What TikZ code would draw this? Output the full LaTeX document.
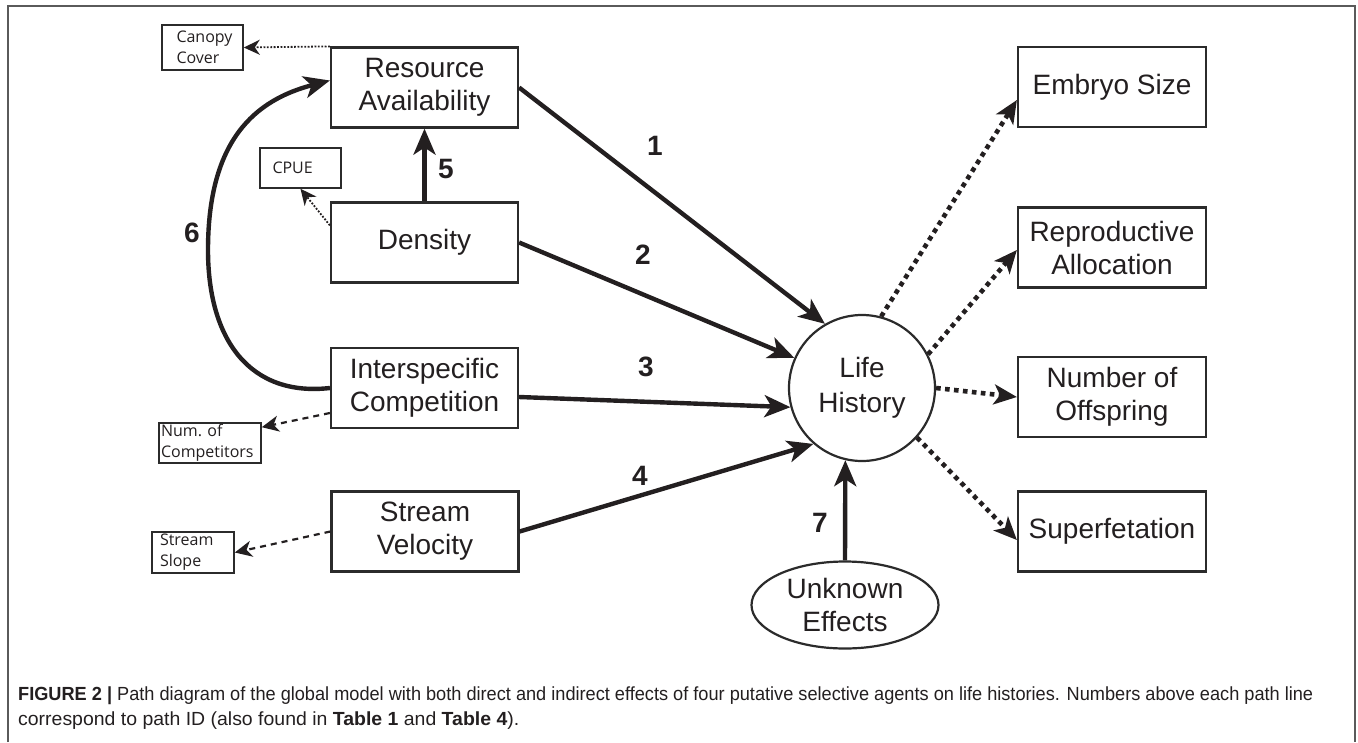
\documentclass[tikz,border=0pt]{standalone}
\usepackage{fontspec}
\setmainfont{Liberation Sans}
\newfontfamily\smallfont{Open Sans}
\usetikzlibrary{arrows.meta,shapes.geometric,calc}
\definecolor{ink}{HTML}{231F20}
\definecolor{linec}{HTML}{2B2B2B}
\definecolor{framec}{HTML}{5A5A5A}
\begin{document}
\begin{tikzpicture}[x=1pt,y=-1pt,
  box/.style={draw=linec, line width=2.2pt, minimum width=187pt, minimum height=80pt, inner sep=0pt, align=center, font=\fontsize{28}{33}\selectfont, text=ink},
  sbox/.style={draw=linec, line width=1.6pt, inner sep=0pt, align=left, font=\smallfont\fontsize{16}{21}\selectfont, text=ink},
  num/.style={font=\bfseries\fontsize{28}{28}\selectfont, text=ink},
  patharrow/.style={draw=ink, line width=4.4pt, -{Stealth[length=26pt,width=22pt,inset=7pt]}},
  outarrow/.style={draw=ink, line width=4.6pt, dash pattern=on 4.6pt off 4.4pt, -{Stealth[length=23pt,width=20pt,inset=6pt]}},
  dotarrow/.style={draw=ink, line width=1.8pt, dash pattern=on 1.8pt off 1.6pt, -{Stealth[length=16pt,width=15pt,inset=5pt]}},
  dasharrow/.style={draw=ink, line width=2.2pt, dash pattern=on 6pt off 5pt, -{Stealth[length=17pt,width=16pt,inset=5pt]}}
]
\useasboundingbox (0,0) rectangle (1358,742);
\draw[framec, line width=1.3pt] (8,742) -- (8,6) -- (1355,6) -- (1355,742);

% main boxes
\node[box] (R) at (424.5,87.5) {Resource\\Availability};
\node[box] (D) at (424.5,242.5) {Density};
\node[box] (I) at (424.5,388) {Interspecific\\Competition};
\node[box] (S) at (425,531.5) {Stream\\Velocity};
\node[box, minimum width=188pt] (E) at (1112,87) {Embryo Size};
\node[box, minimum width=188pt] (A) at (1112,247.5) {Reproductive\\Allocation};
\node[box, minimum width=188pt] (O) at (1112,397) {Number of\\Offspring};
\node[box, minimum width=188pt] (F) at (1112,531.5) {Superfetation};
\node[box, circle, minimum size=146pt, minimum width=146pt, font=\fontsize{28}{35}\selectfont] (L) at (862,388) {Life\\History};
\node[box, ellipse, minimum width=187pt, minimum height=87pt] (U) at (845,605) {Unknown\\Effects};

% small boxes
\node[sbox, minimum width=81pt, minimum height=45pt, text width=52pt] (C) at (202.5,47.5) {Canopy\\Cover};
\node[sbox, minimum width=81pt, minimum height=40pt, text width=56pt] (P) at (300.5,168) {CPUE};
\node[sbox, minimum width=102pt, minimum height=40pt, text width=98pt] (N) at (210,443) {Num.\ of\\Competitors};
\node[sbox, minimum width=82pt, minimum height=41pt, text width=66pt] (T) at (193,552.5) {Stream\\Slope};

% paths
\draw[patharrow] (R.east) -- (L.120);
\draw[patharrow] (D.east) -- (L.156);
\draw[patharrow] ($(I.east)+(0,9)$) -- (L.195);
\draw[patharrow] (S.east) -- (L.229);
\draw[patharrow] (U.north) -- (L.257);
\draw[patharrow] (D.north) -- (R.south);
\draw[patharrow] (I.west) .. controls (250,397) and (208,340) .. (208,250)
  .. controls (208,140) and (255,100) .. ($(R.west)+(0,-7)$);

% outputs
\draw[outarrow] (L.75) -- ($(E.west)+(0,13)$);
\draw[outarrow] (L.27) -- ($(A.west)+(0,2.5)$);
\draw[outarrow] (L.east) -- (O.west);
\draw[outarrow] (L.-42) -- ($(F.west)+(0,8.5)$);

% indicators
\draw[dotarrow] (R.north west) -- (C.east);
\draw[dotarrow] ($(D.north west)+(0,24)$) -- (P.south);
\draw[dasharrow] ($(I.west)+(0,25)$) -- ($(N.north east)+(0,5)$);
\draw[dasharrow] (S.west) -- (T.east);

% numbers
\node[num] (n1) at (655,146) {1};
\node[num] (n2) at (643,255) {2};
\node[num] (n3) at (646,367) {3};
\node[num] (n4) at (640,476) {4};
\node[num] (n5) at (446,169) {5};
\node[num] (n6) at (192,233) {6};
\node[num] (n7) at (820,523) {7};

% caption
\node[anchor=base west, inner sep=0pt, text=ink] (cap1) at (18,700) {\resizebox{1295pt}{\height}{\fontsize{19}{25}\selectfont\textbf{FIGURE 2} \textbf{|} Path diagram of the global model with both direct and indirect effects of four putative selective agents on life histories. Numbers above each path line}};
\node[anchor=base west, inner sep=0pt, text=ink] (cap2) at (18,725) {\resizebox{501pt}{\height}{\fontsize{19}{25}\selectfont correspond to path ID (also found in \textbf{Table 1} and \textbf{Table 4}).}};
\end{tikzpicture}
\end{document}
